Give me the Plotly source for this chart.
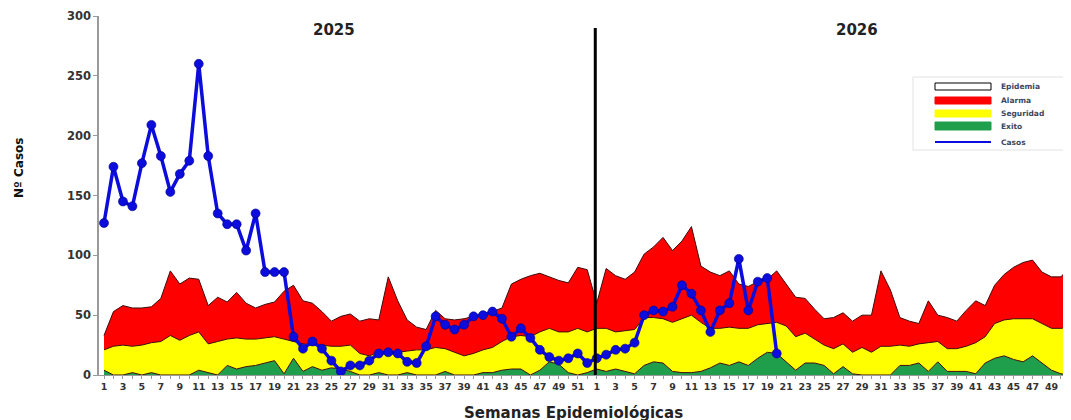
import plotly.graph_objects as go

# ---------------- data ----------------
weeks = list(range(1, 53))
years = ["2025", "2026"]

exito_2025 = [4, 0, 0, 2, 0, 2, 0, 0, 0, 0, 4, 2, 0, 8, 5, 7, 8, 10, 12, 1,
              14, 3, 7, 4, 6, 5, 3, 0, 0, 2, 0, 0, 2, 0, 0, 0, 3, 0, 0, 0,
              2, 2, 4, 5, 5, 0, 4, 11, 9, 2, 0, 2]
seguridad_2025 = [21, 24, 25, 24, 25, 27, 28, 33, 29, 33, 36, 26, 28, 30, 31, 30, 30, 31, 32, 30,
                  28, 26, 25, 25, 24, 24, 25, 18, 16, 19, 19, 19, 20, 21, 21, 23, 22, 19, 16, 18,
                  21, 23, 28, 32, 33, 32, 36, 39, 36, 36, 39, 36]
alarma_2025 = [33, 53, 58, 56, 56, 57, 64, 87, 76, 81, 80, 58, 65, 61, 69, 60, 56, 59, 61, 70,
               75, 62, 60, 53, 45, 49, 51, 45, 47, 46, 82, 62, 46, 40, 38, 54, 47, 46, 47, 49,
               51, 53, 56, 76, 80, 83, 85, 82, 79, 77, 90, 88]

exito_2026 = [5, 3, 5, 3, 1, 8, 11, 10, 3, 2, 2, 3, 6, 10, 8, 11, 8, 14, 19, 18,
              11, 4, 10, 10, 8, 1, 7, 1, 0, 0, 0, 0, 8, 8, 10, 3, 11, 3, 3, 3,
              1, 10, 14, 16, 13, 11, 16, 10, 4, 1, 0, 0]
seguridad_2026 = [39, 39, 36, 37, 38, 48, 48, 47, 44, 47, 50, 44, 39, 39, 40, 39, 39, 42, 43, 44,
                  41, 32, 35, 30, 25, 22, 26, 19, 23, 19, 24, 24, 25, 24, 26, 27, 28, 22, 22, 24,
                  27, 32, 43, 46, 47, 47, 47, 43, 39, 39, 40, 40]
alarma_2026 = [60, 89, 83, 80, 86, 101, 107, 115, 104, 112, 124, 91, 86, 83, 87, 76, 74, 78, 80, 87,
               76, 65, 64, 55, 47, 48, 52, 45, 50, 50, 87, 71, 48, 45, 43, 62, 50, 48, 45, 54,
               62, 58, 75, 84, 90, 94, 96, 86, 82, 82, 91, 92]

casos_2025 = [127, 174, 145, 141, 177, 209, 183, 153, 168, 179, 260, 183, 135, 126, 126, 104, 135, 86, 86, 86,
              32, 22, 28, 22, 12, 3, 8, 8, 12, 18, 19, 18, 11, 10, 24, 49, 42, 38, 42, 49,
              50, 53, 47, 32, 39, 31, 21, 15, 12, 14, 18, 10]
casos_2026 = [14, 17, 21, 22, 27, 50, 54, 53, 57, 75, 68, 54, 36, 54, 60, 97, 54, 78, 81, 18]

y_ticks = [0, 50, 100, 150, 200, 250, 300]
legend_labels = ["Epidemia", "Alarma", "Seguridad", "Exito", "Casos"]

# ---------------- build ----------------
n_total = len(weeks) * len(years)
xi = list(range(n_total))
exito = exito_2025 + exito_2026
seguridad = seguridad_2025 + seguridad_2026
alarma = alarma_2025 + alarma_2026
casos = casos_2025 + casos_2026 + [None] * (len(weeks) - len(casos_2026))

tick_text = [str(w) if w % 2 == 1 else "" for w in weeks] * len(years)

FONT = "DejaVu Sans"
EDGE = "#3d0b0b"
BLUE = "#0c0cdc"

fig = go.Figure()
fig.add_trace(go.Scatter(x=xi, y=exito, mode="lines", fill="tozeroy",
                         fillcolor="#1f9f4c", line=dict(color=EDGE, width=1),
                         name="Exito", showlegend=False, hoverinfo="skip"))
fig.add_trace(go.Scatter(x=xi, y=seguridad, mode="lines", fill="tonexty",
                         fillcolor="#ffff00", line=dict(color=EDGE, width=1),
                         name="Seguridad", showlegend=False, hoverinfo="skip"))
fig.add_trace(go.Scatter(x=xi, y=alarma, mode="lines", fill="tonexty",
                         fillcolor="#ff0000", line=dict(color=EDGE, width=1),
                         name="Alarma", showlegend=False, hoverinfo="skip"))
fig.add_trace(go.Scatter(x=xi, y=casos, mode="lines+markers",
                         line=dict(color=BLUE, width=3.5),
                         marker=dict(color=BLUE, size=9, line=dict(color="#00008a", width=0.6)),
                         name="Casos", showlegend=False))

# geometry: the page draws the figure offset by the browser's 8px body margin
OFF = 8
W, H = 1071, 420
L = 99 - OFF          # plot left edge -> page x 99
T = 16 - OFF          # y=300 -> page y 16
B = H - (375 - OFF)   # y=0 -> page y 375
R = 0
pw, ph = W - L - R, H - T - B

# x range keeps the reference spacing (week 1 at page x 104, 9.475 px per week)
x_left = (99 - 104) / 9.475
x_right = (W + OFF - 104) / 9.475


def px(x):
    return (x - OFF - L) / pw


def py(y):
    return (H - B - (y - OFF)) / ph


shapes = []
# year separator
shapes.append(dict(type="line", xref="x", yref="y", x0=len(weeks) - 0.15, x1=len(weeks) - 0.15,
                   y0=0, y1=290, line=dict(color="black", width=3)))
# legend box
shapes.append(dict(type="rect", xref="paper", yref="paper", x0=px(913), x1=px(1065),
                   y0=py(150), y1=py(77), line=dict(color="#e2e2e2", width=1), fillcolor="white"))
sw = [("white", "black", 83, 90), ("#ff0000", "#ff0000", 97, 104),
      ("#ffff00", "#ffff00", 110, 117), ("#1f9f4c", "#1f9f4c", 122, 130)]
for fc, lc, y0, y1 in sw:
    shapes.append(dict(type="rect", xref="paper", yref="paper", x0=px(935), x1=px(991),
                       y0=py(y1), y1=py(y0), fillcolor=fc, line=dict(color=lc, width=1)))
shapes.append(dict(type="line", xref="paper", yref="paper", x0=px(935), x1=px(991),
                   y0=py(142), y1=py(142), line=dict(color=BLUE, width=2)))

annotations = []
for lab, yy in zip(legend_labels, [86.5, 100.5, 113.5, 126, 142]):
    annotations.append(dict(text=lab, xref="paper", yref="paper", x=px(999), y=py(yy),
                            xanchor="left", yanchor="middle", showarrow=False,
                            font=dict(family=FONT, size=7.5, color="#3c4660", weight="bold")))
annotations.append(dict(text="2025", xref="paper", yref="paper", x=px(334), y=py(30),
                        xanchor="center", yanchor="middle", showarrow=False,
                        font=dict(family=FONT, size=15, color="#222", weight="bold")))
annotations.append(dict(text="2026", xref="paper", yref="paper", x=px(857), y=py(30),
                        xanchor="center", yanchor="middle", showarrow=False,
                        font=dict(family=FONT, size=15, color="#222", weight="bold")))
annotations.append(dict(text="Nº Casos", xref="paper", yref="paper", x=px(19), y=py(168),
                        xanchor="center", yanchor="middle", textangle=-90, showarrow=False,
                        font=dict(family=FONT, size=12, color="#111", weight="bold")))
annotations.append(dict(text="Semanas Epidemiológicas", xref="paper", yref="paper", x=px(573), y=py(402),
                        xanchor="center", yanchor="top", showarrow=False,
                        font=dict(family=FONT, size=15, color="#222", weight="bold")))

fig.update_layout(
    width=W, height=H,
    margin=dict(l=L, r=R, t=T, b=B, autoexpand=False),
    paper_bgcolor="white", plot_bgcolor="white",
    showlegend=False,
    shapes=shapes, annotations=annotations,
    xaxis=dict(range=[x_left, x_right], tickmode="array", tickvals=xi, ticktext=tick_text,
               automargin=False,
               showgrid=False, zeroline=False, showline=True, linecolor="#9a9a9a", linewidth=1,
               ticks="outside", ticklen=3, tickcolor="#9a9a9a",
               tickfont=dict(family=FONT, size=9.5, color="#333", weight="bold"), tickangle=0),
    yaxis=dict(range=[0, 300], tickmode="array", tickvals=y_ticks, automargin=False,
               showgrid=False, zeroline=False, showline=True, linecolor="#9a9a9a", linewidth=1.5,
               ticks="outside", ticklen=4, tickcolor="#9a9a9a",
               tickfont=dict(family=FONT, size=11.5, color="#333", weight="bold")),
)

fig.write_html("out.html")
